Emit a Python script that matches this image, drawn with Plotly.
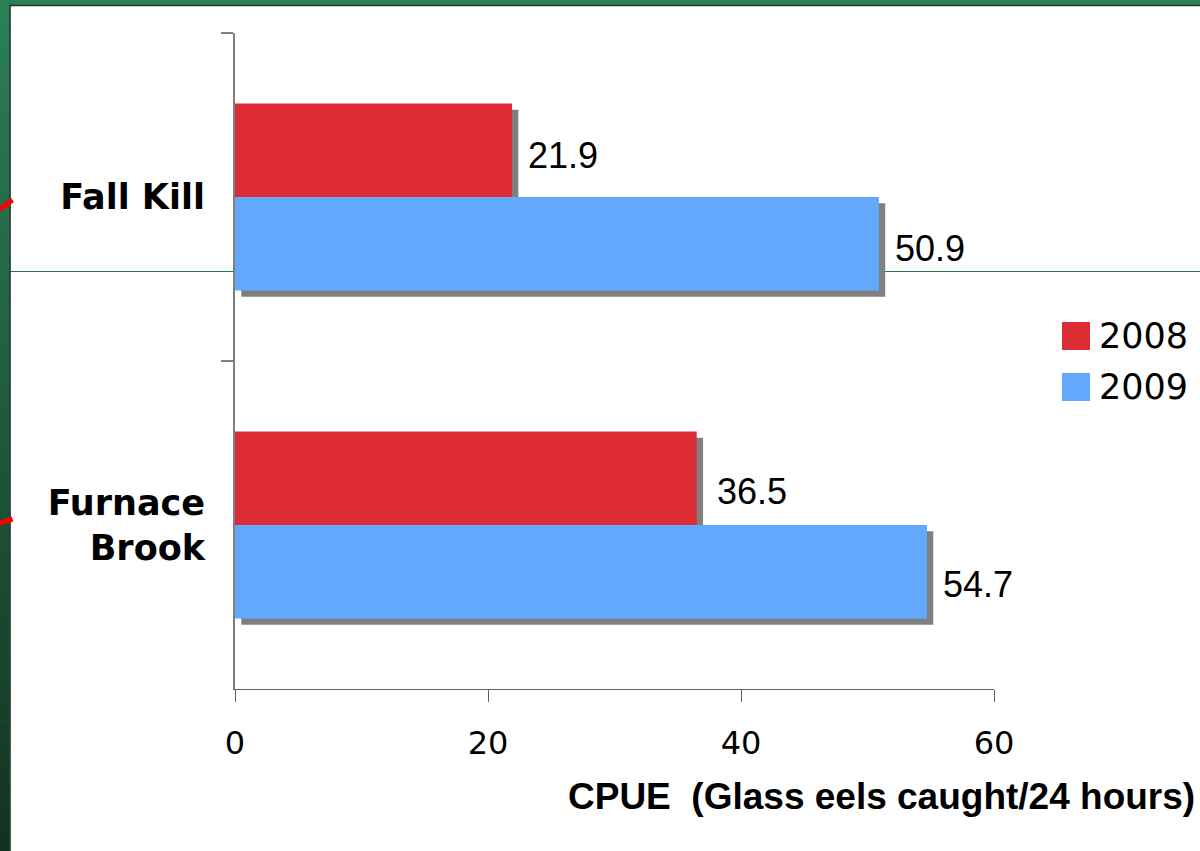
# %%
import plotly.graph_objs as go

# %%
# data
sites = ['Fall Kill', 'Furnace<br>Brook']
years = ['2008', '2009']
cpue_2008 = [21.9, 36.5]
cpue_2009 = [50.9, 54.7]
x_ticks = [0, 20, 40, 60]
x_title = 'CPUE\u00a0 (Glass eels caught/24 hours)'

# %%
W, H = 1200, 851
PL, PR, PT, PB = 235, 994, 33, 689   # plot area in pixels


def paper_x(px):
    return (px - PL) / (PR - PL)


def paper_y(py):
    return (PB - py) / (PB - PT)


bar_colors = {'2008': '#de2c34', '2009': '#62a9fe'}
shadow_color = '#808080'
bar_w = 0.285
bar_offsets = {'2008': -bar_w, '2009': 0.0}
shadow_dx = 0.5      # data units (about 6 px)
shadow_dy = 0.019    # category units (about 6 px)
series = {'2008': cpue_2008, '2009': cpue_2009}

fig = go.Figure()

# shadows first, then the bars on top
for yr in years:
    fig.add_trace(go.Bar({
        'orientation': 'h',
        'y': sites,
        'x': series[yr],
        'base': shadow_dx,
        'width': bar_w,
        'offset': bar_offsets[yr] + shadow_dy,
        'marker': {'color': shadow_color, 'line': {'width': 0}},
        'showlegend': False,
        'hoverinfo': 'skip',
    }))

for yr in years:
    fig.add_trace(go.Bar({
        'orientation': 'h',
        'y': sites,
        'x': series[yr],
        'width': bar_w,
        'offset': bar_offsets[yr],
        'name': yr,
        'marker': {'color': bar_colors[yr], 'line': {'width': 0}},
        'showlegend': False,
    }))

# value labels
label_nudge = [4, 12]   # px below bar centre, per site
for yr in years:
    for i, (site, v) in enumerate(zip(sites, series[yr])):
        centre = -(bar_offsets[yr] + bar_w / 2) * (PB - PT) / 2
        fig.add_annotation(
            x=v, y=site, xref='x', yref='y',
            text=f'{v:.1f}', showarrow=False,
            xanchor='left', yanchor='middle',
            xshift=14 + (4 if i == 1 and yr == '2008' else 0),
            yshift=centre - label_nudge[i] - 1,
            font={'family': 'Liberation Sans, Arial', 'size': 36, 'color': '#000000'},
        )

# axis title placed like on the slide
fig.add_annotation(
    x=paper_x(1197), y=paper_y(796), xref='paper', yref='paper',
    text=f'<b>{x_title}</b>', showarrow=False,
    xanchor='right', yanchor='middle',
    font={'family': 'Liberation Sans, Arial', 'size': 37, 'color': '#000000'},
)

# hand-made legend with big swatches
for k, yr in enumerate(years):
    top = 322 + k * 51
    fig.add_shape(type='rect', xref='paper', yref='paper',
                  x0=paper_x(1062), x1=paper_x(1090), y0=paper_y(top), y1=paper_y(top + 28),
                  fillcolor=bar_colors[yr], line={'width': 0})
    fig.add_annotation(
        x=paper_x(1097), y=paper_y(top + 14), xref='paper', yref='paper',
        text=yr, showarrow=False, xanchor='left', yanchor='middle',
        font={'family': 'DejaVu Sans', 'size': 35, 'color': '#000000'},
    )

# slide frame: green top strip, darkening left strip
fig.add_shape(type='rect', xref='paper', yref='paper', layer='above',
              x0=paper_x(0), x1=paper_x(W), y0=paper_y(0), y1=paper_y(5),
              fillcolor='#2a7f57', line={'width': 0})
fig.add_shape(type='line', xref='paper', yref='paper', layer='above',
              x0=paper_x(10), x1=paper_x(W), y0=paper_y(5.5), y1=paper_y(5.5),
              line={'color': '#1a3a2a', 'width': 1.5})
top_rgb, bot_rgb = (42, 127, 87), (19, 51, 34)
n_steps = 40
for s in range(n_steps):
    t = s / (n_steps - 1)
    c = tuple(round(a + (b - a) * t) for a, b in zip(top_rgb, bot_rgb))
    y0 = 5 + (H - 5) * s / n_steps
    y1 = 5 + (H - 5) * (s + 1) / n_steps
    fig.add_shape(type='rect', xref='paper', yref='paper', layer='above',
                  x0=paper_x(0), x1=paper_x(9.5), y0=paper_y(y0), y1=paper_y(y1 + 1),
                  fillcolor='rgb(%d,%d,%d)' % c, line={'width': 0})
fig.add_shape(type='line', xref='paper', yref='paper', layer='above',
              x0=paper_x(10), x1=paper_x(10), y0=paper_y(5), y1=paper_y(H),
              line={'color': '#0c1f14', 'width': 1.5})

# thin green rule across the slide and red arrow stubs at the edge
fig.add_shape(type='line', xref='paper', yref='paper', layer='below',
              x0=paper_x(11), x1=paper_x(W), y0=paper_y(271.5), y1=paper_y(271.5),
              line={'color': '#1a7a4c', 'width': 1})
for y_a, y_b in [(209, 200), (523, 519)]:
    fig.add_shape(type='line', xref='paper', yref='paper', layer='above',
                  x0=paper_x(0), x1=paper_x(12.5), y0=paper_y(y_a), y1=paper_y(y_b),
                  line={'color': '#ff0000', 'width': 5})

fig.update_layout(
    width=W, height=H,
    margin={'l': PL, 'r': W - PR, 't': PT, 'b': H - PB, 'pad': 0},
    paper_bgcolor='white', plot_bgcolor='white',
    barmode='overlay',
    showlegend=False,
    xaxis={
        'range': [0, 60], 'tickvals': x_ticks, 'ticks': 'outside', 'ticklen': 12,
        'tickcolor': '#606060', 'tickwidth': 1,
        'showline': True, 'linecolor': '#606060', 'linewidth': 1,
        'showgrid': False, 'zeroline': False,
        'tickfont': {'family': 'DejaVu Sans', 'size': 32, 'color': '#000000'},
        'ticklabelstandoff': 14,
    },
    yaxis={
        'type': 'category', 'categoryorder': 'array', 'categoryarray': sites,
        'range': [1.5, -0.5],
        'ticks': 'outside', 'tickson': 'boundaries', 'ticklen': 12,
        'tickcolor': '#7f7f7f', 'tickwidth': 2,
        'showline': True, 'linecolor': '#7f7f7f', 'linewidth': 2,
        'showgrid': False, 'zeroline': False,
        'tickfont': {'family': 'DejaVu Sans', 'size': 35, 'color': '#000000', 'weight': 'bold'},
        'ticklabelstandoff': 21,
    },
)

# the page's default 8px body margin would push the slide off its frame
fig.write_html("out.html", config={'displayModeBar': False},
               post_script="document.body.style.margin = '0';")
